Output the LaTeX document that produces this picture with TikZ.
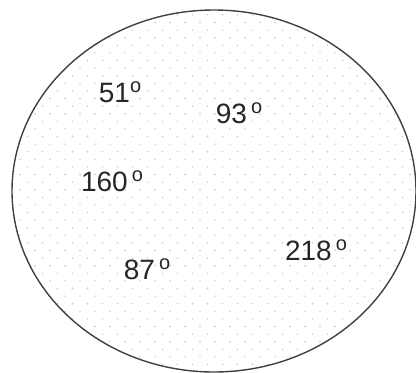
\documentclass[tikz,border=0pt]{standalone}
\usepackage{fontspec}
\setmainfont{Liberation Sans}
\definecolor{rimgray}{HTML}{404040}
\definecolor{dotgray}{HTML}{C4C4C4}
\newcommand\degring{\raisebox{10pt}{\fontsize{20}{20}\selectfont o}}
\tikzset{
  angle/.style={font=\fontsize{28}{32}\selectfont,inner sep=0pt,text=black!85},
  rim/.style={draw=rimgray,line width=1.4pt}
}
\begin{document}
\begin{tikzpicture}[x=1pt,y=-1pt]
  \useasboundingbox (0,0) rectangle (416,373);
  % stippled disc, staggered rows
  \begin{scope}
    \clip (214,191) ellipse [x radius=202,y radius=181];
    \foreach \j in {0,...,50}
      \foreach \i in {0,...,28}
        \fill[dotgray] ({5+15*\i+7.5*mod(\j,2)},{7.3+7.6*\j}) circle (0.8);
  \end{scope}
  \draw[rim] (214,191) ellipse [x radius=202,y radius=181];
  % angle labels
  \node[angle] (a51)  at (120,92)  {51\degring};
  \node[angle] (a93)  at (239,113) {93\hspace{4pt}\degring};
  \node[angle] (a160) at (112,181) {160\hspace{4pt}\degring};
  \node[angle] (a218) at (316,250) {218\hspace{4pt}\degring};
  \node[angle] (a87)  at (147,269) {87\hspace{4pt}\degring};
\end{tikzpicture}
\end{document}
